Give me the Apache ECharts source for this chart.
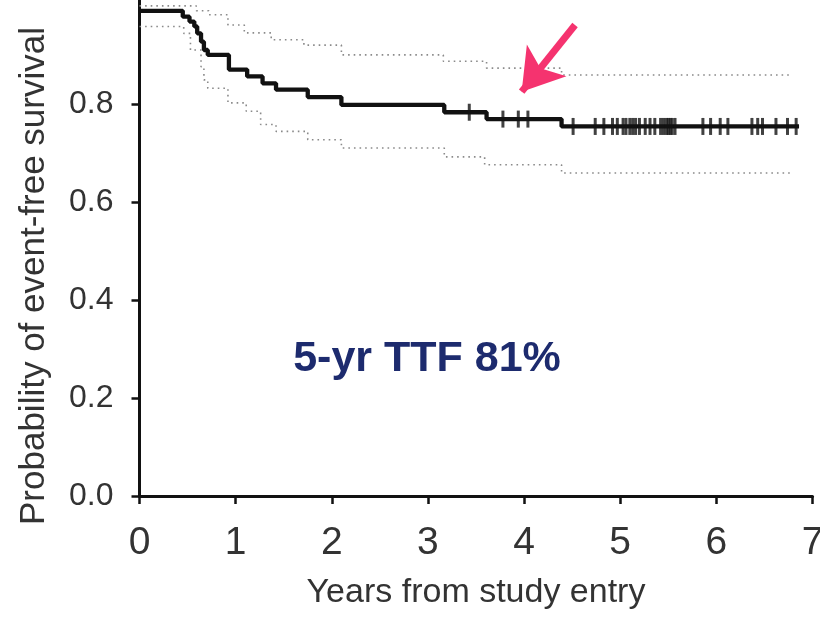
<!DOCTYPE html>
<html><head><meta charset="utf-8">
<script src="https://cdn.jsdelivr.net/npm/echarts@6/dist/echarts.min.js"></script>
<style>html,body{margin:0;padding:0;background:#fff}#c{width:820px;height:617px}</style>
</head><body><div id="c"></div>
<script>
// Kaplan-Meier estimate (step starts at each time)
const kmTimes = [0, 0.45, 0.52, 0.57, 0.60, 0.64, 0.67, 0.71, 0.93, 1.12, 1.28, 1.42, 1.75, 2.10, 3.17, 3.61, 4.39, 6.86];
const kmSurv  = [0.99, 0.978, 0.968, 0.958, 0.944, 0.927, 0.910, 0.900, 0.870, 0.856, 0.842, 0.829, 0.814, 0.798, 0.783, 0.769, 0.754, 0.754];
// Upper confidence limit
const upTimes = [0, 0.59, 0.72, 0.92, 1.09, 1.37, 1.71, 2.10, 3.16, 3.61, 4.39, 6.78];
const upSurv  = [1.0, 0.99, 0.982, 0.961, 0.945, 0.931, 0.92, 0.90, 0.887, 0.873, 0.859, 0.859];
// Lower confidence limit
const loTimes = [0, 0.46, 0.53, 0.64, 0.67, 0.71, 0.92, 1.11, 1.26, 1.42, 1.75, 2.10, 3.17, 3.59, 4.39, 6.80];
const loSurv  = [0.958, 0.944, 0.910, 0.876, 0.849, 0.832, 0.802, 0.785, 0.758, 0.744, 0.727, 0.710, 0.692, 0.676, 0.659, 0.659];
// Censored observations (times)
const censorTimes = [3.43, 3.78, 3.94, 4.04, 4.51, 4.74, 4.83, 4.92, 4.97, 5.03, 5.06, 5.10, 5.13, 5.16, 5.20, 5.26, 5.31, 5.36, 5.42, 5.45, 5.48, 5.50, 5.52, 5.54, 5.57, 5.86, 5.94, 6.04, 6.12, 6.37, 6.43, 6.48, 6.62, 6.74, 6.83];
// Axis ticks
const xTicks = [0, 1, 2, 3, 4, 5, 6, 7];
const yTicks = [0, 0.2, 0.4, 0.6, 0.8];
// Annotation
const annotText = '5-yr TTF 81%';
const arrowFrom = [4.53, 0.961];
const arrowTo   = [3.975, 0.825];

const zip = (a, b) => a.map((v, i) => [v, b[i]]);
function survAt(t) {
  let s = kmSurv[0];
  for (let i = 0; i < kmTimes.length; i++) { if (kmTimes[i] <= t) s = kmSurv[i]; }
  return s;
}
const FONT = "'Liberation Sans', Arial, Helvetica, sans-serif";

const chart = echarts.init(document.getElementById('c'), null, {renderer: 'canvas'});
chart.setOption({
  animation: false,
  backgroundColor: '#ffffff',
  grid: {left: 139.5, right: 7.5, top: 0, bottom: 121, outerBoundsMode: 'none', containLabel: false},
  xAxis: {
    type: 'value', min: 0, max: 7, interval: 1,
    name: 'Years from study entry', nameLocation: 'middle', nameGap: 80,
    nameTextStyle: {fontFamily: FONT, fontSize: 34, color: '#333'},
    axisLine: {show: true, onZero: false, lineStyle: {color: '#111', width: 3}},
    axisTick: {show: true, length: 8, lineStyle: {color: '#111', width: 2.5}, customValues: xTicks},
    axisLabel: {fontFamily: FONT, fontSize: 39, color: '#333', margin: 28, customValues: xTicks},
    splitLine: {show: false}
  },
  yAxis: {
    type: 'value', min: 0, max: 1.012,
    name: 'Probability of event-free survival', nameLocation: 'middle', nameGap: 88,
    nameTextStyle: {fontFamily: FONT, fontSize: 35, color: '#333', padding: [0, 56, 0, 0]},
    axisLine: {show: true, onZero: false, lineStyle: {color: '#111', width: 3}},
    axisTick: {show: true, length: 8, lineStyle: {color: '#111', width: 2.5}, customValues: yTicks},
    axisLabel: {fontFamily: FONT, fontSize: 32, color: '#333', margin: 26, customValues: yTicks,
      formatter: v => v.toFixed(1)},
    splitLine: {show: false}
  },
  series: [
    {type: 'line', step: 'end', data: zip(upTimes, upSurv), symbol: 'none', z: 2,
      lineStyle: {color: '#8a8a8a', width: 1.6, type: [1.6, 4]}},
    {type: 'line', step: 'end', data: zip(loTimes, loSurv), symbol: 'none', z: 2,
      lineStyle: {color: '#8a8a8a', width: 1.6, type: [1.6, 4]}},
    {type: 'line', step: 'end', data: zip(kmTimes, kmSurv), symbol: 'none', z: 3,
      lineStyle: {color: '#111', width: 4.3},
      markLine: {
        silent: true, symbol: ['none', 'arrow'], symbolSize: [38, 40],
        lineStyle: {color: '#f5336f', width: 7, type: 'solid'},
        label: {show: false},
        data: [[{coord: arrowFrom}, {coord: arrowTo}]]
      }},
    {type: 'scatter', data: censorTimes.map(t => [t, survAt(t)]), symbol: 'rect', symbolSize: [3, 17], z: 4,
      itemStyle: {color: '#111'}}
  ],
  graphic: [{
    type: 'text', x: 427, y: 359, z: 10,
    style: {text: annotText, font: "bold 43px 'Liberation Sans', Arial, sans-serif", fill: '#1d2b6e',
      align: 'center', verticalAlign: 'middle'}
  }]
});
</script></body></html>
